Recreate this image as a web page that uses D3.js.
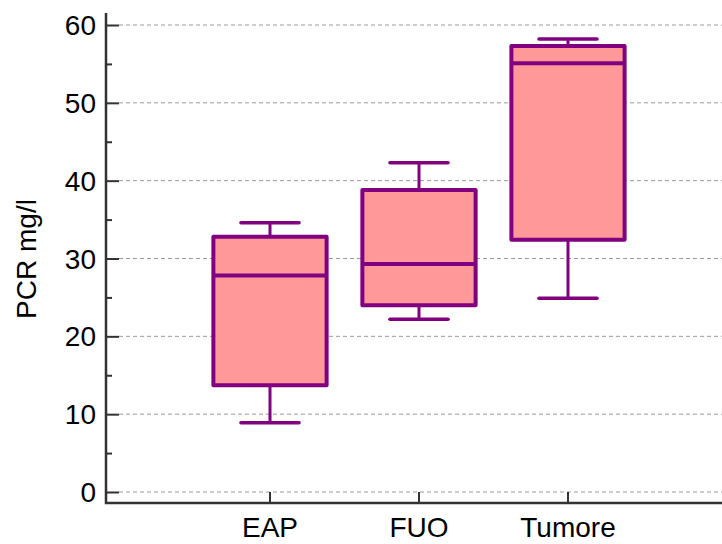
<!DOCTYPE html>
<html>
<head>
<meta charset="utf-8">
<script src="https://cdn.jsdelivr.net/npm/d3@7"></script>
<style>
  html, body { margin: 0; padding: 0; background: #fff; }
  svg { display: block; font-family: "Liberation Sans", Arial, sans-serif; }
</style>
</head>
<body>
<svg id="chart" width="722" height="544"></svg>
<script>
// Groups and their box-plot statistics (PCR mg/l)
const categories = ["EAP", "FUO", "Tumore"];
const whiskerLow  = [8.9, 22.2, 24.9];
const q1          = [13.7, 24.0, 32.4];
const median      = [27.8, 29.3, 55.1];
const q3          = [32.8, 38.8, 57.3];
const whiskerHigh = [34.6, 42.3, 58.2];
const yTicks = [0, 10, 20, 30, 40, 50, 60];
const yMinorTicks = [5, 15, 25, 35, 45, 55];
const yLabel = "PCR mg/l";

const boxes = categories.map((c, i) => ({
  cat: c, lo: whiskerLow[i], q1: q1[i], med: median[i], q3: q3[i], hi: whiskerHigh[i]
}));

const svg = d3.select("#chart");
const axisX = 106, axisBottom = 503, axisTop = 13, plotRight = 722;
const fontSize = 28;

const y = d3.scaleLinear().domain([0, 60]).range([492, 25]);
const x = d3.scaleBand().domain(categories).range([195.5, 642.5]).padding(0);
const bw = x.bandwidth();
const boxW = bw * 0.76, capW = bw * 0.39;
const cx = d => x(d) + bw / 2;

const stroke = "#800080", fill = "#FF9999", axisCol = "#333";

// dashed horizontal gridlines
svg.append("g").selectAll("line").data(yTicks).join("line")
  .attr("x1", axisX + 13).attr("x2", plotRight)
  .attr("y1", d => y(d)).attr("y2", d => y(d))
  .attr("stroke", "#9a9a9a").attr("stroke-width", 1)
  .attr("stroke-dasharray", "4,3");

// boxes
const g = svg.append("g").selectAll("g").data(boxes).join("g");
g.append("line")
  .attr("x1", d => cx(d.cat)).attr("x2", d => cx(d.cat))
  .attr("y1", d => y(d.hi)).attr("y2", d => y(d.q3))
  .attr("stroke", stroke).attr("stroke-width", 3);
g.append("line")
  .attr("x1", d => cx(d.cat)).attr("x2", d => cx(d.cat))
  .attr("y1", d => y(d.q1)).attr("y2", d => y(d.lo))
  .attr("stroke", stroke).attr("stroke-width", 3);
["hi", "lo"].forEach(k => {
  g.append("line")
    .attr("x1", d => cx(d.cat) - capW / 2).attr("x2", d => cx(d.cat) + capW / 2)
    .attr("y1", d => y(d[k])).attr("y2", d => y(d[k]))
    .attr("stroke", stroke).attr("stroke-width", 3.5).attr("stroke-linecap", "round");
});
g.append("rect")
  .attr("x", d => cx(d.cat) - boxW / 2).attr("width", boxW)
  .attr("y", d => y(d.q3)).attr("height", d => y(d.q1) - y(d.q3))
  .attr("fill", fill).attr("stroke", stroke).attr("stroke-width", 4)
  .attr("stroke-linejoin", "round");
g.append("line")
  .attr("x1", d => cx(d.cat) - boxW / 2).attr("x2", d => cx(d.cat) + boxW / 2)
  .attr("y1", d => y(d.med)).attr("y2", d => y(d.med))
  .attr("stroke", stroke).attr("stroke-width", 4);

// y axis: major ticks with labels, minor ticks, pointing inward
const yAxis = svg.append("g").attr("transform", `translate(${axisX},0)`);
yAxis.call(d3.axisRight(y).tickValues(yTicks).tickSize(13).tickFormat(""))
  .call(a => a.select(".domain").remove())
  .call(a => a.selectAll(".tick line").attr("stroke", axisCol).attr("stroke-width", 2));
yAxis.append("g").call(d3.axisRight(y).tickValues(yMinorTicks).tickSize(6).tickFormat(""))
  .call(a => a.select(".domain").remove())
  .call(a => a.selectAll(".tick line").attr("stroke", axisCol).attr("stroke-width", 2));
yAxis.selectAll(".ylab").data(yTicks).join("text")
  .attr("class", "ylab")
  .attr("x", -10).attr("y", d => y(d)).attr("dy", "0.36em")
  .attr("text-anchor", "end").attr("font-size", fontSize).attr("fill", "#000")
  .text(d => d);

// x axis: ticks at category centres pointing up
const xAxis = svg.append("g").attr("transform", `translate(0,${axisBottom})`);
xAxis.call(d3.axisTop(x).tickSize(11).tickFormat(""))
  .call(a => a.select(".domain").remove())
  .call(a => a.selectAll(".tick line").attr("stroke", axisCol).attr("stroke-width", 2));
xAxis.selectAll(".xlab").data(categories).join("text")
  .attr("class", "xlab")
  .attr("x", d => cx(d)).attr("y", 34)
  .attr("text-anchor", "middle").attr("font-size", fontSize).attr("fill", "#000")
  .text(d => d);

// axis lines
svg.append("path")
  .attr("d", `M${axisX},${axisTop}V${axisBottom}H${plotRight}`)
  .attr("fill", "none").attr("stroke", axisCol).attr("stroke-width", 2.5);

// y axis title
svg.append("text")
  .attr("transform", `translate(36,259) rotate(-90)`)
  .attr("text-anchor", "middle").attr("font-size", fontSize).attr("fill", "#000")
  .text(yLabel);
</script>
</body>
</html>
